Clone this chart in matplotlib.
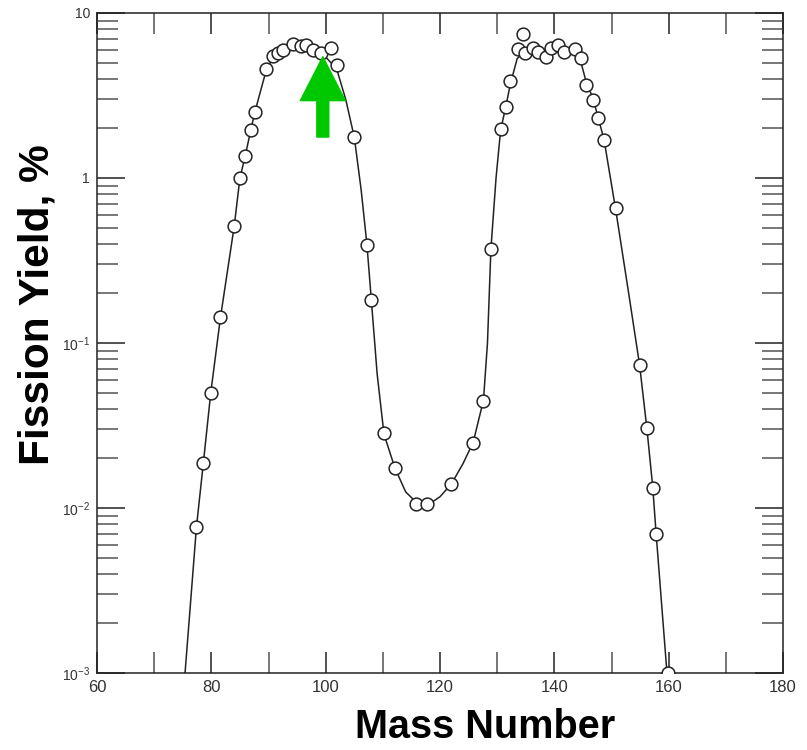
import matplotlib
matplotlib.use("Agg")
import matplotlib.pyplot as plt
from matplotlib.ticker import LogLocator, MultipleLocator, NullFormatter

plt.rcParams['font.family'] = ['Liberation Sans', 'DejaVu Sans']
plt.rcParams['mathtext.fontset'] = 'custom'
plt.rcParams['mathtext.rm'] = 'Liberation Sans'

# measured yields (%) vs mass number
mass = [77.4, 78.6, 79.9, 81.6, 84.0, 85.0, 85.9, 86.9, 87.6, 89.6,
        90.7, 91.6, 92.6, 94.3, 95.7, 96.6, 97.8, 99.2, 101.0, 101.9,
        105.0, 107.2, 107.9, 110.2, 112.1, 115.8, 117.8, 122.0, 125.8, 127.6,
        128.9, 130.6, 131.5, 132.3, 133.7, 134.5, 134.9, 136.3, 137.2, 138.5,
        139.5, 140.7, 141.6, 143.6, 144.6, 145.5, 146.8, 147.7, 148.7, 150.8,
        154.9, 156.2, 157.2, 157.8, 159.8]
yields = [0.0077, 0.0187, 0.050, 0.143, 0.51, 1.0, 1.35, 1.95, 2.5, 4.6,
          5.48, 5.72, 6.0, 6.45, 6.3, 6.36, 5.97, 5.76, 6.13, 4.84,
          1.77, 0.393, 0.182, 0.0284, 0.0174, 0.0106, 0.0106, 0.0140, 0.0247, 0.0447,
          0.37, 1.97, 2.71, 3.89, 6.03, 7.47, 5.70, 6.11, 5.82, 5.38,
          6.11, 6.40, 5.82, 6.03, 5.31, 3.66, 2.97, 2.30, 1.70, 0.658,
          0.0736, 0.0304, 0.0132, 0.0070, 0.001]

# smooth fit curve
fit_mass = [75.4, 77.4, 78.6, 79.9, 81.6, 84.0, 85.0, 85.9, 86.9, 87.6,
            89.6, 90.7, 92.0, 94.0, 96.0, 98.0, 100.0, 101.9, 103.5, 105.0,
            106.2, 107.2, 108.0, 109.0, 110.2, 112.1, 114.0, 116.0, 118.0, 120.0,
            122.0, 124.0, 125.8, 127.6, 128.3, 128.9, 129.8, 130.6, 131.5, 132.3,
            133.5, 135.0, 137.0, 139.0, 141.0, 143.0, 144.6, 145.5, 146.8, 147.7,
            148.7, 150.8, 153.0, 154.9, 156.2, 157.2, 157.8, 159.7]
fit_yield = [0.001, 0.0077, 0.0187, 0.050, 0.143, 0.51, 1.0, 1.35, 1.95, 2.5,
             4.5, 5.3, 5.9, 6.2, 6.2, 5.9, 5.4, 4.6, 3.0, 1.77,
             0.85, 0.40, 0.18, 0.065, 0.028, 0.0175, 0.0125, 0.0107, 0.0105, 0.0117,
             0.014, 0.0185, 0.025, 0.045, 0.1, 0.37, 1.0, 1.95, 2.7, 3.7,
             5.3, 5.9, 6.0, 6.0, 6.0, 5.9, 5.1, 3.9, 3.0, 2.3,
             1.70, 0.62, 0.2, 0.074, 0.030, 0.0135, 0.007, 0.001]

arrow_mass = 99.5
arrow_from, arrow_to = 1.77, 5.43

fig = plt.figure(figsize=(8.07, 7.5), dpi=100)
ax = fig.add_axes([0.1202, 0.1027, 0.8501, 0.88])

ax.plot(fit_mass, fit_yield, color='#222222', lw=1.1, zorder=2)
ax.plot(mass, yields, 'o', ms=9.2, mfc='white', mec='#222222', mew=1.1, zorder=3)

ax.annotate('', xy=(arrow_mass, arrow_to), xytext=(arrow_mass, arrow_from),
            arrowprops=dict(arrowstyle='simple,head_length=1.58,head_width=1.62,tail_width=0.43',
                            color='#00c800', shrinkA=0, shrinkB=0, mutation_scale=20),
            zorder=5)

ax.set_yscale('log')
ax.set_xlim(60, 180)
ax.set_ylim(1e-3, 10)

ax.set_xticks(range(60, 181, 20))
ax.xaxis.set_minor_locator(MultipleLocator(10))
ax.set_yticks([1e-3, 1e-2, 1e-1, 1, 10])
ax.set_yticklabels([r'$\mathregular{10^{-3}}$', r'$\mathregular{10^{-2}}$',
                    r'$\mathregular{10^{-1}}$', '1', '10'])
ax.yaxis.set_minor_locator(LogLocator(base=10, subs=range(2, 10)))
ax.yaxis.set_minor_formatter(NullFormatter())

ax.tick_params(which='major', direction='in', top=True, right=True, color='#333333', width=1.2)
ax.tick_params(which='minor', direction='in', top=True, right=True, color='#777777', width=1.4)
ax.tick_params(axis='x', which='both', length=15, labelsize=12, labelcolor='#333333', pad=5)
ax.tick_params(axis='y', which='major', length=20, labelsize=10, labelcolor='#333333', pad=5)
ax.tick_params(axis='y', which='minor', length=15)

for s in ax.spines.values():
    s.set_linewidth(1.1)
    s.set_color('#222222')

fig.text(0.601, 0.031, 'Mass Number', fontsize=28.5, fontweight='bold', ha='center', va='center')
fig.text(0.046, 0.594, 'Fission Yield, %', fontsize=30.5, fontweight='bold', rotation=90,
         ha='center', va='center')

fig.savefig('out.png', dpi=100)
